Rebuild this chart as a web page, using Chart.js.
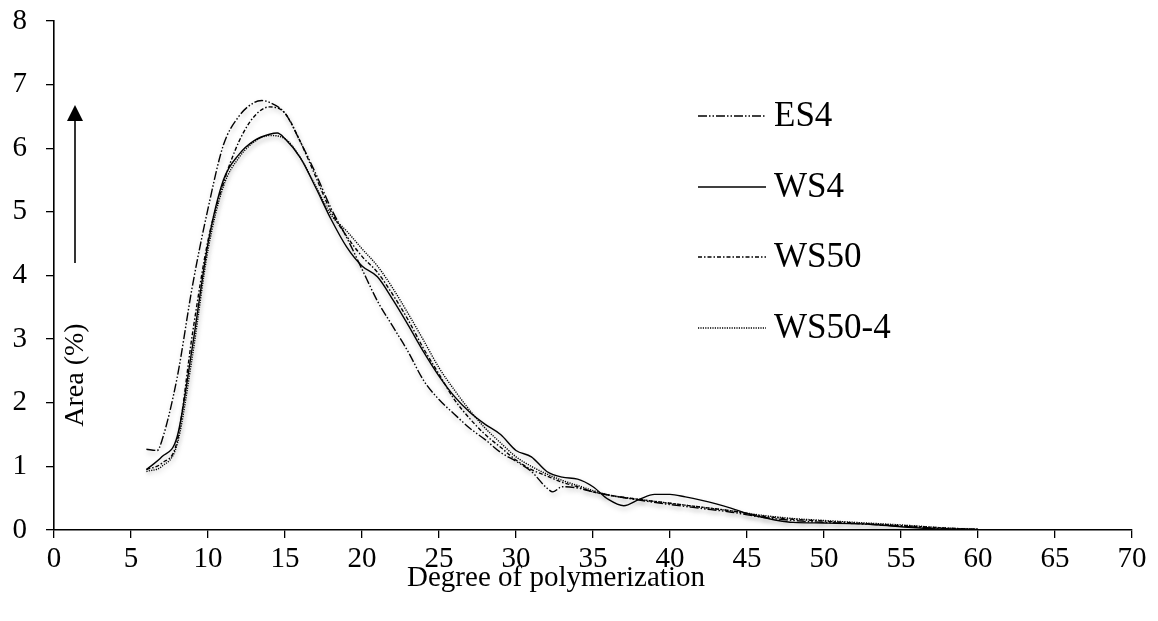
<!DOCTYPE html>
<html>
<head>
<meta charset="utf-8">
<script src="https://cdn.jsdelivr.net/npm/chart.js@4.4.0/dist/chart.umd.min.js"></script>
<style>
  html, body { margin: 0; padding: 0; background: #fff; }
  #wrap { width: 1158px; height: 621px; }
</style>
</head>
<body>
<div id="wrap"><canvas id="myChart" width="1158" height="621"></canvas></div>
<script>
// data
const xTicks = [0, 5, 10, 15, 20, 25, 30, 35, 40, 45, 50, 55, 60, 65, 70];
const yTicks = [0, 1, 2, 3, 4, 5, 6, 7, 8];

const es4X = [6, 6.7, 7, 8, 9, 10, 11, 12, 13, 13.5, 14, 15, 16, 17, 18, 19, 20, 21, 22, 23, 24, 25, 26, 27, 28, 29, 30, 31, 32, 32.4, 33, 34, 35, 36, 38, 40, 42, 44, 46, 48, 50, 52, 55, 58, 60];
const es4Y = [1.27, 1.25, 1.4, 2.4, 3.85, 5.05, 6.05, 6.5, 6.72, 6.75, 6.72, 6.55, 6.1, 5.6, 5.05, 4.6, 4.1, 3.6, 3.2, 2.8, 2.35, 2.05, 1.82, 1.6, 1.42, 1.22, 1.08, 0.92, 0.66, 0.6, 0.68, 0.66, 0.6, 0.55, 0.47, 0.4, 0.34, 0.28, 0.2, 0.15, 0.12, 0.1, 0.06, 0.02, 0.01];

const ws4X = [6, 7, 8, 9, 10, 11, 12, 13, 14, 14.5, 15, 16, 17, 18, 19, 20, 21, 22, 23, 24, 25, 26, 27, 28, 29, 30, 31, 32, 33, 34, 35, 36, 37, 38, 39, 40, 41, 42, 43, 44, 45, 46, 47, 48, 50, 52, 53, 55, 57, 60];
const ws4Y = [0.95, 1.15, 1.47, 2.9, 4.5, 5.5, 5.9, 6.12, 6.22, 6.24, 6.15, 5.85, 5.38, 4.88, 4.45, 4.15, 3.98, 3.62, 3.22, 2.8, 2.42, 2.1, 1.85, 1.66, 1.5, 1.25, 1.15, 0.92, 0.83, 0.8, 0.68, 0.48, 0.38, 0.48, 0.56, 0.56, 0.52, 0.47, 0.41, 0.34, 0.26, 0.2, 0.15, 0.12, 0.11, 0.1, 0.09, 0.05, 0.02, 0.01];

const ws50X = [6, 7, 8, 9, 10, 11, 12, 13, 14, 15, 16, 17, 18, 19, 20, 21, 22, 23, 24, 25, 26, 27, 28, 29, 30, 31, 32, 33, 34, 35, 36, 38, 40, 42, 44, 45, 46, 48, 50, 52, 55, 58, 60];
const ws50Y = [0.95, 1.05, 1.4, 3.1, 4.55, 5.45, 6.1, 6.5, 6.65, 6.55, 6.1, 5.55, 5.0, 4.62, 4.3, 4.05, 3.7, 3.3, 2.85, 2.45, 2.05, 1.75, 1.5, 1.3, 1.1, 0.95, 0.85, 0.75, 0.68, 0.6, 0.55, 0.48, 0.42, 0.36, 0.3, 0.26, 0.22, 0.17, 0.14, 0.11, 0.07, 0.03, 0.01];

const ws504X = [6, 7, 8, 9, 10, 11, 12, 13, 14, 15, 16, 17, 18, 19, 20, 21, 22, 23, 24, 25, 26, 27, 28, 29, 30, 31, 32, 33, 34, 35, 36, 38, 40, 42, 44, 46, 48, 50, 52, 55, 58, 60];
const ws504Y = [0.92, 1.0, 1.35, 2.75, 4.4, 5.4, 5.85, 6.1, 6.2, 6.15, 5.85, 5.4, 4.95, 4.7, 4.42, 4.15, 3.8, 3.4, 2.98, 2.55, 2.2, 1.88, 1.6, 1.37, 1.15, 1.0, 0.88, 0.78, 0.7, 0.62, 0.55, 0.48, 0.42, 0.36, 0.3, 0.23, 0.18, 0.15, 0.12, 0.08, 0.03, 0.01];

const seriesNames = ['ES4', 'WS4', 'WS50', 'WS50-4'];
const seriesDash = [[9, 2, 1.5, 2, 1.5, 2], [], [4, 2, 1.5, 2], [1.2, 1.2]];

const FONT = '"Liberation Serif", "Times New Roman", serif';

function toPoints(xs, ys) {
  return xs.map((x, i) => ({ x: x, y: ys[i] }));
}

const seriesData = [toPoints(es4X, es4Y), toPoints(ws4X, ws4Y), toPoints(ws50X, ws50Y), toPoints(ws504X, ws504Y)];

const datasets = seriesNames.map((name, i) => ({
  label: name,
  data: seriesData[i],
  borderColor: '#000',
  borderWidth: 1.4,
  borderDash: seriesDash[i],
  pointRadius: 0,
  fill: false,
  cubicInterpolationMode: 'monotone'
}));

// soft shadow under the curves, like the original
const shadowPlugin = {
  id: 'shadow',
  beforeDatasetsDraw(chart) {
    const c = chart.ctx;
    c.save();
    c.shadowColor = 'rgba(0,0,0,0.25)';
    c.shadowBlur = 5;
    c.shadowOffsetX = 1;
    c.shadowOffsetY = 3;
  },
  afterDatasetsDraw(chart) {
    chart.ctx.restore();
  }
};

// legend, axis titles and arrow
const extrasPlugin = {
  id: 'extras',
  afterDraw(chart) {
    const c = chart.ctx;
    c.save();
    c.fillStyle = '#000';
    c.strokeStyle = '#000';

    // legend
    const legY = [116, 187, 257, 328];
    seriesNames.forEach((name, i) => {
      c.lineWidth = 1.4;
      c.setLineDash(seriesDash[i]);
      c.beginPath();
      c.moveTo(698, legY[i]);
      c.lineTo(766, legY[i]);
      c.stroke();
      c.setLineDash([]);
      c.font = '35px ' + FONT;
      c.textAlign = 'left';
      c.textBaseline = 'middle';
      c.fillText(name, 774, legY[i] + 1);
    });

    // x title
    c.font = '29px ' + FONT;
    c.textAlign = 'center';
    c.textBaseline = 'middle';
    c.fillText('Degree of polymerization', 556, 578);

    // y title + arrow
    c.save();
    c.translate(76, 375);
    c.rotate(-Math.PI / 2);
    c.font = '28px ' + FONT;
    c.fillText('Area (%)', 0, 0);
    c.restore();

    c.lineWidth = 1.6;
    c.beginPath();
    c.moveTo(75, 263);
    c.lineTo(75, 118);
    c.stroke();
    c.beginPath();
    c.moveTo(75, 105);
    c.lineTo(67, 121);
    c.lineTo(83, 121);
    c.closePath();
    c.fill();
    c.restore();
  }
};

const ctx = document.getElementById('myChart').getContext('2d');
const myChart = new Chart(ctx, {
  type: 'line',
  data: { datasets: datasets },
  options: {
    responsive: false,
    animation: false,
    layout: { padding: { top: 21, right: 26, left: 0, bottom: 0 } },
    plugins: {
      legend: { display: false },
      tooltip: { enabled: false }
    },
    scales: {
      x: {
        type: 'linear',
        min: 0,
        max: 70,
        afterBuildTicks: (axis) => { axis.ticks = xTicks.map(v => ({ value: v })); },
        afterFit: (axis) => { axis.height = 91; },
        grid: { drawOnChartArea: false, drawTicks: true, tickLength: 8, color: '#000', lineWidth: 1.3 },
        border: { color: '#000', width: 1.6 },
        ticks: { color: '#000', font: { family: FONT, size: 29 }, padding: 4, maxRotation: 0 }
      },
      y: {
        min: 0,
        max: 8,
        afterBuildTicks: (axis) => { axis.ticks = yTicks.map(v => ({ value: v })); },
        afterFit: (axis) => { axis.width = 54; axis.paddingTop = 0; axis.paddingBottom = 0; },
        grid: { drawOnChartArea: false, drawTicks: true, tickLength: 8, color: '#000', lineWidth: 1.3 },
        border: { color: '#000', width: 1.6 },
        ticks: { color: '#000', font: { family: FONT, size: 29 }, padding: 19 }
      }
    }
  },
  plugins: [shadowPlugin, extrasPlugin]
});
</script>
</body>
</html>
